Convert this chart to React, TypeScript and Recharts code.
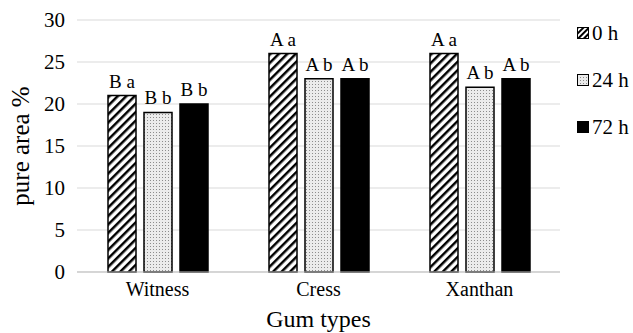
import { Bar, BarChart, CartesianGrid, LabelList, XAxis, YAxis } from "recharts"

const categories = ["Witness", "Cress", "Xanthan"]
const h0 = [21, 26, 26]
const h24 = [19, 23, 22]
const h72 = [20, 23, 23]
const letters0 = ["B a", "A a", "A a"]
const letters24 = ["B b", "A b", "A b"]
const letters72 = ["B b", "A b", "A b"]
const yTicks = [0, 5, 10, 15, 20, 25, 30]

const chartData = categories.map((name, i) => ({
  name,
  h0: h0[i],
  h24: h24[i],
  h72: h72[i],
  l0: letters0[i],
  l24: letters24[i],
  l72: letters72[i],
}))

const font = "Liberation Serif"

const series = [
  { key: "h0", label: "l0", name: "0 h", fill: "url(#hatch)" },
  { key: "h24", label: "l24", name: "24 h", fill: "url(#dots)" },
  { key: "h72", label: "l72", name: "72 h", fill: "#000" },
]

// legend sits outside the chart so it doesn't shrink the plot area
function LegendBox() {
  return (
    <div style={{ position: "absolute", left: 577, top: 10, fontFamily: font, fontSize: 21, color: "#000" }}>
      {series.map((s) => (
        <div key={s.key} style={{ display: "flex", alignItems: "center", height: 47 }}>
          <svg width={13} height={13} style={{ marginRight: 2 }}>
            <defs>
              <pattern id={"lg" + s.key} width={4} height={4} patternUnits="userSpaceOnUse" patternTransform="rotate(45)">
                <rect width={4} height={4} fill="#fff" />
                <rect width={2} height={4} fill="#000" />
              </pattern>
            </defs>
            <rect
              x={0.5}
              y={0.5}
              width={11}
              height={11}
              fill={s.key === "h0" ? "url(#lgh0)" : s.fill}
              stroke="#000"
              strokeWidth={1}
            />
          </svg>
          <span>{s.name}</span>
        </div>
      ))}
    </div>
  )
}

export default function App() {
  return (
    <div style={{ position: "absolute", left: 0, top: 0, width: 633, height: 333, background: "#fff", fontFamily: font }}>
      <BarChart
        width={633}
        height={333}
        data={chartData}
        margin={{ top: 20, right: 73, bottom: 0, left: 0 }}
        barSize={28}
        barGap={8}
        barCategoryGap={30}
        style={{ fontFamily: font }}
      >
        <defs>
          <pattern id="hatch" width={6} height={6} patternUnits="userSpaceOnUse" patternTransform="rotate(45)">
            <rect width={6} height={6} fill="#fff" />
            <rect width={2.5} height={6} fill="#000" />
          </pattern>
          <pattern id="dots" width={3} height={3} patternUnits="userSpaceOnUse">
            <rect width={3} height={3} fill="#ebebeb" />
            <rect width={1} height={1} fill="#8c8c8c" />
          </pattern>
        </defs>
        <CartesianGrid vertical={false} stroke="#d9d9d9" />
        <XAxis
          dataKey="name"
          tickLine={false}
          axisLine={{ stroke: "#bfbfbf" }}
          height={61}
          tick={{ fontSize: 20, fill: "#000", fontFamily: font }}
          tickMargin={4}
          label={{ value: "Gum types", position: "insideBottom", offset: 6, fontSize: 24, fill: "#000", fontFamily: font }}
        />
        <YAxis
          domain={[0, 30]}
          ticks={yTicks}
          tickLine={false}
          axisLine={false}
          width={77}
          tick={{ fontSize: 21, fill: "#000", fontFamily: font }}
          tickMargin={6}
          label={{
            value: "pure area %",
            angle: -90,
            position: "insideLeft",
            offset: 20,
            style: { textAnchor: "middle" },
            fontSize: 25,
            fill: "#000",
            fontFamily: font,
          }}
        />
        {series.map((s) => (
          <Bar
            key={s.key}
            dataKey={s.key}
            name={s.name}
            fill={s.fill}
            stroke="#000"
            strokeWidth={1.5}
            isAnimationActive={false}
          >
            <LabelList dataKey={s.label} position="top" offset={8} fontSize={19} fill="#000" fontFamily={font} />
          </Bar>
        ))}
      </BarChart>
      <LegendBox />
    </div>
  )
}
